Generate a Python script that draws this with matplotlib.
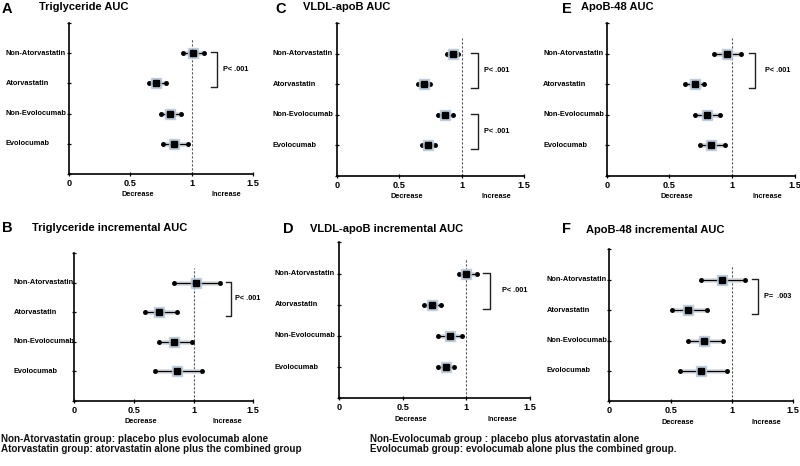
#!/usr/bin/env python3
"""
Six-panel forest plot: AUC ratios (triglyceride, VLDL-apoB, apoB-48)
by atorvastatin / evolocumab grouping.
Output: out.png (800x466)
"""

import matplotlib
matplotlib.use("Agg")
import matplotlib.pyplot as plt
import matplotlib.transforms as mtransforms

plt.rcParams["font.family"] = ["Liberation Sans", "DejaVu Sans"]

# ── data ──
GROUPS = ["Non-Atorvastatin", "Atorvastatin", "Non-Evolocumab", "Evolocumab"]

PANEL_KEYS = ["A", "B", "C", "D", "E", "F"]
PANEL_TITLES = {
    "A": "Triglyceride AUC",
    "B": "Triglyceride incremental AUC",
    "C": "VLDL-apoB AUC",
    "D": "VLDL-apoB incremental AUC",
    "E": "ApoB-48 AUC",
    "F": "ApoB-48 incremental AUC",
}

# point estimate, lower CI, upper CI (order follows GROUPS)
EST = {
    "A": [1.01, 0.71, 0.82, 0.86],
    "B": [1.02, 0.71, 0.84, 0.86],
    "C": [0.93, 0.70, 0.87, 0.73],
    "D": [1.00, 0.73, 0.87, 0.84],
    "E": [0.96, 0.70, 0.80, 0.83],
    "F": [0.92, 0.64, 0.77, 0.75],
}
LOW = {
    "A": [0.93, 0.65, 0.75, 0.77],
    "B": [0.84, 0.59, 0.71, 0.68],
    "C": [0.88, 0.65, 0.815, 0.68],
    "D": [0.94, 0.67, 0.78, 0.78],
    "E": [0.855, 0.625, 0.705, 0.74],
    "F": [0.75, 0.51, 0.645, 0.58],
}
HIGH = {
    "A": [1.10, 0.79, 0.91, 0.97],
    "B": [1.22, 0.86, 0.99, 1.07],
    "C": [0.97, 0.75, 0.93, 0.79],
    "D": [1.08, 0.80, 0.965, 0.90],
    "E": [1.07, 0.775, 0.90, 0.945],
    "F": [1.11, 0.80, 0.93, 0.96],
}

# significance brackets: (first group index, second group index, label)
BRACKETS = {
    "A": [(0, 1, "P< .001")],
    "B": [(0, 1, "P< .001")],
    "C": [(0, 1, "P< .001"), (2, 3, "P< .001")],
    "D": [(0, 1, "P< .001")],
    "E": [(0, 1, "P< .001")],
    "F": [(0, 1, "P=  .003")],
}

XTICKS = [0, 0.5, 1, 1.5]
XTICKLABELS = ["0", "0.5", "1", "1.5"]

FOOTNOTE_LEFT = ["Non-Atorvastatin group: placebo plus evolocumab alone",
                 "Atorvastatin group: atorvastatin alone plus the combined group"]
FOOTNOTE_RIGHT = ["Non-Evolocumab group : placebo plus atorvastatin alone",
                  "Evolocumab group: evolocumab alone plus the combined group."]

# ── layout (pixels in 800x466 canvas) ──
W, H = 800, 466
# axes box: left, right, top, bottom
AX_BOX = {
    "A": (69, 253, 23, 174),
    "B": (74, 253.3, 253, 401),
    "C": (336.7, 524, 23, 176),
    "D": (339.3, 530, 242.3, 398.3),
    "E": (606.7, 795, 23, 176),
    "F": (609.3, 793.3, 249.3, 401.3),
}
# left edge of the group labels
LABEL_X = {"A": 6, "B": 14, "C": 272.7, "D": 274.7, "E": 543.3, "F": 546.7}
# panel letter (x, baseline), title (x, baseline)
LETTER_POS = {"A": (2, 13), "B": (2, 231.7), "C": (275, 13.3),
              "D": (283.3, 232.7), "E": (561.7, 13.3), "F": (562.3, 232.7)}
TITLE_POS = {"A": (39, 10), "B": (32.3, 230.7), "C": (303.3, 10),
             "D": (310, 231.7), "E": (581, 10), "F": (586, 232.7)}
# bracket: arm start x, vertical x, text x (data units)
BRACKET_X = {
    "A": [(1.157, 1.206, 1.255)],
    "B": [(1.27, 1.31, 1.35)],
    "C": [(1.075, 1.134, 1.18), (1.075, 1.134, 1.18)],
    "D": [(1.131, 1.184, 1.28)],
    "E": [(1.13, 1.18, 1.26)],
    "F": [(1.16, 1.21, 1.26)],
}


def px_box(l, r, t, b):
    return [l / W, 1 - b / H, (r - l) / W, (b - t) / H]


def draw_panel(fig, key):
    l, r, t, b = AX_BOX[key]
    ax = fig.add_axes(px_box(l, r, t, b))
    ax.set_xlim(0, 1.5)
    ax.set_ylim(0, 5)

    ypos = [4, 3, 2, 1]
    # reference line
    ax.plot([1, 1], [0, 4.5], color="#555555", lw=0.8, ls=(0, (2, 1.6)), zorder=1)

    for y, est, lo, hi in zip(ypos, EST[key], LOW[key], HIGH[key]):
        # soft halo under the CI line and the square
        ax.plot([lo, hi], [y, y], color="#d6dbe0", lw=3.4,
                solid_capstyle="round", zorder=2)
        ax.plot([lo, hi], [y, y], color="black", lw=0.9, zorder=3)
        ax.plot([lo, hi], [y, y], ls="none", marker="o", ms=2.5,
                color="black", zorder=4)
        ax.plot([est], [y], ls="none", marker="s", ms=6.8,
                color="#b4c6d8", alpha=0.8, zorder=4)
        ax.plot([est], [y], ls="none", marker="s", ms=5.0,
                color="black", zorder=5)

    # group labels, left aligned
    trans = mtransforms.blended_transform_factory(ax.transAxes, ax.transData)
    lx = (LABEL_X[key] - l) / (r - l)
    for y, name in zip(ypos, GROUPS):
        ax.text(lx, y, name, transform=trans, ha="left", va="center",
                fontsize=5.3, fontweight="bold", clip_on=False)

    # significance brackets
    for (i, j, label), (x0, x1, xt) in zip(BRACKETS[key], BRACKET_X[key]):
        ytop = ypos[i] + 0.03
        ybot = ypos[j] - 0.13
        ax.plot([x0, x1, x1, x0], [ytop, ytop, ybot, ybot],
                color="#222222", lw=1.0, zorder=3, clip_on=False)
        ax.text(xt, (ytop + ybot) / 2, label, ha="left", va="center",
                fontsize=5.3, fontweight="bold", clip_on=False)

    # axes styling
    ax.set_yticks(range(6))
    ax.set_yticklabels([])
    ax.set_xticks(XTICKS)
    ax.set_xticklabels(XTICKLABELS, fontsize=6.6, fontweight="bold")
    ax.tick_params(axis="both", direction="inout", length=3.5, width=0.9)
    ax.tick_params(axis="x", pad=1.5)
    for side in ("top", "right"):
        ax.spines[side].set_visible(False)
    for side in ("left", "bottom"):
        ax.spines[side].set_linewidth(1.2)

    ax.annotate("Decrease", xy=(0.56, 0), xycoords=("data", "axes fraction"),
                xytext=(0, -15), textcoords="offset points",
                ha="center", va="center", fontsize=5.3, fontweight="bold")
    ax.annotate("Increase", xy=(1.28, 0), xycoords=("data", "axes fraction"),
                xytext=(0, -15), textcoords="offset points",
                ha="center", va="center", fontsize=5.3, fontweight="bold")

    # panel letter and title
    lxp, lyp = LETTER_POS[key]
    fig.text(lxp / W, 1 - lyp / H, key, ha="left", va="baseline",
             fontsize=10.5, fontweight="bold")
    txp, typ = TITLE_POS[key]
    fig.text(txp / W, 1 - typ / H, PANEL_TITLES[key], ha="left", va="baseline",
             fontsize=8, fontweight="bold")
    return ax


def make_figure():
    fig = plt.figure(figsize=(W / 100, H / 100), dpi=100)
    fig.patch.set_facecolor("white")
    for key in PANEL_KEYS:
        draw_panel(fig, key)

    for k, line in enumerate(FOOTNOTE_LEFT):
        fig.text(1 / W, 1 - (439.3 + 10 * k) / H, line, ha="left", va="center",
                 fontsize=7.1, fontweight="bold", color="#111111")
    for k, line in enumerate(FOOTNOTE_RIGHT):
        fig.text(370 / W, 1 - (439.3 + 10 * k) / H, line, ha="left", va="center",
                 fontsize=7.1, fontweight="bold", color="#111111")

    fig.savefig("out.png", dpi=100, facecolor="white")
    plt.close(fig)


if __name__ == "__main__":
    make_figure()
